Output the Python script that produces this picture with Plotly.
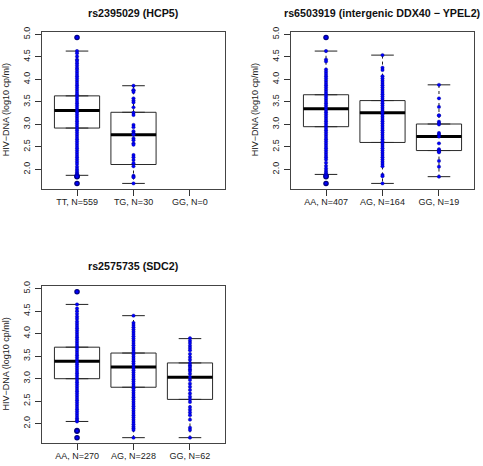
import plotly.graph_objects as go

# ---------------- data ----------------
Y_TICKS = [2.0, 2.5, 3.0, 3.5, 4.0, 4.5, 5.0]
Y_TICK_TEXT = ["2.0", "2.5", "3.0", "3.5", "4.0", "4.5", "5.0"]
Y_LABEL = "HIV\u2212DNA (log10 cp/ml)"

# Panel 1: rs2395029 (HCP5)
p1_title = "rs2395029 (HCP5)"
p1_cats = ["TT, N=559", "TG, N=30", "GG, N=0"]
p1_tt = [4.93, 4.63, 4.58, 4.51, 4.44, 4.41, 4.36, 4.31,
         4.26, 4.22, 4.17, 4.12, 4.07, 4.02, 3.97, 3.92, 3.87, 3.82, 3.77, 3.72,
         3.67, 3.62, 3.57, 3.52, 3.47, 3.42, 3.37, 3.32, 3.27, 3.22, 3.17, 3.12,
         3.07, 3.02, 2.97, 2.92, 2.87, 2.82, 2.77, 2.72, 2.67, 2.62, 2.57, 2.52,
         2.47, 2.42, 2.37, 2.32, 2.27, 2.22, 2.17, 2.12,
         2.06, 2.01, 1.97, 1.93, 1.90, 1.88, 1.86, 1.84, 1.69]
p1_tg = [3.86, 3.76, 3.76, 3.72, 3.58, 3.53, 3.49, 3.38, 3.26, 3.21, 2.99, 2.94,
         2.85, 2.80, 2.80, 2.78, 2.77, 2.69, 2.65, 2.58, 2.55, 2.32, 2.27, 2.21,
         2.14, 2.07, 1.86, 1.83, 1.83, 1.69]
p1_gg = []
p1_lower = [1.87, 1.69, None]
p1_q1 = [2.92, 2.11, None]
p1_med = [3.31, 2.77, None]
p1_q3 = [3.635, 3.27, None]
p1_upper = [4.63, 3.86, None]
p1_out = [[4.93, 1.85, 1.84, 1.69], [], []]

# Panel 2: rs6503919 (intergenic DDX40 - YPEL2)
p2_title = "rs6503919 (intergenic DDX40 \u2212 YPEL2)"
p2_cats = ["AA, N=407", "AG, N=164", "GG, N=19"]
p2_aa = [4.93, 4.63, 4.44, 4.40,
         4.22, 4.17, 4.12, 4.07, 4.02, 3.97, 3.92, 3.87, 3.82, 3.77, 3.72, 3.67,
         3.62, 3.57, 3.52, 3.47, 3.42, 3.37, 3.32, 3.27, 3.22, 3.17, 3.12, 3.07,
         3.02, 2.97, 2.92, 2.87, 2.82, 2.77, 2.72, 2.67, 2.62, 2.57, 2.52, 2.47,
         2.42, 2.37, 2.32, 2.27, 2.22,
         2.15, 2.08, 2.02, 1.97, 1.93, 1.89, 1.86, 1.84, 1.69]
p2_ag = [4.54, 4.26, 4.21,
         4.07, 4.02, 3.97, 3.92, 3.87, 3.82, 3.77, 3.72, 3.67, 3.62, 3.57, 3.52,
         3.47, 3.42, 3.37, 3.32, 3.27, 3.22, 3.17, 3.12, 3.07, 3.02, 2.97, 2.92,
         2.87, 2.82, 2.77, 2.72, 2.67, 2.62, 2.57, 2.52, 2.47, 2.42, 2.37, 2.32,
         2.27, 2.22, 2.17, 2.12, 2.07,
         1.88, 1.85, 1.69]
p2_gg = [3.88, 3.58, 3.39, 3.20, 3.20, 3.06, 3.03, 3.00, 2.81, 2.78, 2.73, 2.58,
         2.45, 2.42, 2.40, 2.38, 2.19, 2.06, 1.84]
p2_lower = [1.89, 1.69, 1.84]
p2_q1 = [2.95, 2.60, 2.42]
p2_med = [3.35, 3.26, 2.73]
p2_q3 = [3.66, 3.53, 3.01]
p2_upper = [4.63, 4.54, 3.88]
p2_out = [[4.93, 1.86, 1.84, 1.69], [], []]

# Panel 3: rs2575735 (SDC2)
p3_title = "rs2575735 (SDC2)"
p3_cats = ["AA, N=270", "AG, N=228", "GG, N=62"]
p3_aa = [4.93, 4.65, 4.56, 4.50, 4.44, 4.38, 4.33,
         4.27, 4.22, 4.17, 4.12, 4.07, 4.02, 3.97, 3.92, 3.87, 3.82, 3.77, 3.72,
         3.67, 3.62, 3.57, 3.52, 3.47, 3.42, 3.37, 3.32, 3.27, 3.22, 3.17, 3.12,
         3.07, 3.02, 2.97, 2.92, 2.87, 2.82, 2.77, 2.72, 2.67, 2.62, 2.57, 2.52,
         2.47, 2.42, 2.37, 2.32, 2.27, 2.22, 2.17, 2.12, 2.08, 2.05, 1.84, 1.69]
p3_ag = [4.40,
         4.24, 4.19, 4.14, 4.09, 4.04, 3.99, 3.94, 3.89, 3.84, 3.79, 3.74, 3.69,
         3.64, 3.59, 3.54, 3.49, 3.44, 3.39, 3.34, 3.29, 3.24, 3.19, 3.14, 3.09,
         3.04, 2.99, 2.94, 2.89, 2.84, 2.79, 2.74, 2.69, 2.64, 2.59, 2.54, 2.49,
         2.44, 2.39, 2.34, 2.29, 2.24, 2.19, 2.14, 2.09, 2.04, 1.99, 1.94, 1.90,
         1.86, 1.69]
p3_gg = [3.90, 3.84, 3.79, 3.73, 3.68, 3.63, 3.55, 3.48, 3.42, 3.35, 3.30, 3.26,
         3.21, 3.17, 3.11, 3.04, 2.97, 2.89, 2.82, 2.75, 2.67, 2.60, 2.54, 2.48,
         2.37, 2.31, 2.25, 2.19, 2.09, 1.91, 1.86, 1.69]
p3_lower = [2.05, 1.69, 1.69]
p3_q1 = [3.00, 2.81, 2.54]
p3_med = [3.39, 3.26, 3.03]
p3_q3 = [3.70, 3.57, 3.35]
p3_upper = [4.65, 4.40, 3.89]
p3_out = [[4.93, 1.85, 1.83, 1.69], [], []]

# ---------------- figure ----------------
W, H = 483, 466
FONT = "Liberation Sans, Arial, Helvetica, sans-serif"
STRIP = "rgb(0,0,255)"
STRIP_EDGE = "rgba(0,0,120,0.7)"
OUT = "#00007a"

panels = [
    dict(title=p1_title, cats=p1_cats, groups=[p1_tt, p1_tg, p1_gg], lower=p1_lower, q1=p1_q1,
         med=p1_med, q3=p1_q3, upper=p1_upper, out=p1_out,
         xd=[42 / W, 225 / W], yd=[280 / H, 439 / H], title_y=458 / H, xa="x", ya="y"),
    dict(title=p2_title, cats=p2_cats, groups=[p2_aa, p2_ag, p2_gg], lower=p2_lower, q1=p2_q1,
         med=p2_med, q3=p2_q3, upper=p2_upper, out=p2_out,
         xd=[291 / W, 474 / W], yd=[280 / H, 439 / H], title_y=458 / H, xa="x2", ya="y2"),
    dict(title=p3_title, cats=p3_cats, groups=[p3_aa, p3_ag, p3_gg], lower=p3_lower, q1=p3_q1,
         med=p3_med, q3=p3_q3, upper=p3_upper, out=p3_out,
         xd=[42 / W, 225 / W], yd=[23 / H, 182 / H], title_y=202 / H, xa="x3", ya="y3"),
]

fig = go.Figure()
annotations = []
layout_axes = {}

for k, p in enumerate(panels):
    xa, ya = p["xa"], p["ya"]
    idx = [i + 1 for i in range(len(p["cats"]))]
    have = [i for i in range(len(idx)) if p["med"][i] is not None]

    # boxes (white fill, whiskers collapsed; whiskers drawn dashed below)
    fig.add_trace(go.Box(
        x=[idx[i] for i in have],
        q1=[p["q1"][i] for i in have],
        median=[p["med"][i] for i in have],
        q3=[p["q3"][i] for i in have],
        lowerfence=[p["q1"][i] for i in have],
        upperfence=[p["q3"][i] for i in have],
        width=0.8, boxpoints=False, fillcolor="white",
        line=dict(color="#2a2a2a", width=1),
        xaxis=xa, yaxis=ya, showlegend=False, hoverinfo="skip"))

    # whiskers (dashed) and caps
    wx, wy, cx, cy = [], [], [], []
    for i in have:
        c = idx[i]
        wx += [c, c, None, c, c, None]
        wy += [p["q3"][i], p["upper"][i], None, p["q1"][i], p["lower"][i], None]
        cx += [c - 0.2, c + 0.2, None, c - 0.2, c + 0.2, None]
        cy += [p["upper"][i], p["upper"][i], None, p["lower"][i], p["lower"][i], None]
    fig.add_trace(go.Scatter(x=wx, y=wy, mode="lines", line=dict(color="#222", width=1, dash="3px,3px"),
                             xaxis=xa, yaxis=ya, showlegend=False, hoverinfo="skip"))
    fig.add_trace(go.Scatter(x=cx, y=cy, mode="lines", line=dict(color="#222", width=1),
                             xaxis=xa, yaxis=ya, showlegend=False, hoverinfo="skip"))

    # outliers
    ox, oy = [], []
    for i in range(len(idx)):
        ox += [idx[i]] * len(p["out"][i])
        oy += p["out"][i]
    fig.add_trace(go.Scatter(x=ox, y=oy, mode="markers", marker=dict(color=OUT, size=5.5),
                             xaxis=xa, yaxis=ya, showlegend=False, hoverinfo="skip"))

    # medians (thick)
    mx, my = [], []
    for i in have:
        mx += [idx[i] - 0.4, idx[i] + 0.4, None]
        my += [p["med"][i], p["med"][i], None]
    fig.add_trace(go.Scatter(x=mx, y=my, mode="lines", line=dict(color="black", width=3),
                             xaxis=xa, yaxis=ya, showlegend=False, hoverinfo="skip"))

    # strip points
    sx, sy = [], []
    for i, g in enumerate(p["groups"]):
        sx += [idx[i]] * len(g)
        sy += g
    fig.add_trace(go.Scatter(x=sx, y=sy, mode="markers",
                             marker=dict(color=STRIP, size=3.4, line=dict(color=STRIP_EDGE, width=0.5)),
                             xaxis=xa, yaxis=ya, showlegend=False, hoverinfo="skip"))

    xname = "xaxis" + ("" if k == 0 else str(k + 1))
    yname = "yaxis" + ("" if k == 0 else str(k + 1))
    layout_axes[xname] = dict(domain=p["xd"], anchor=ya, range=[0.38, 3.62],
                              tickmode="array", tickvals=idx, ticktext=p["cats"],
                              ticks="outside", ticklen=6, tickcolor="#333", showgrid=False, zeroline=False,
                              showline=True, mirror=True, linecolor="#444", linewidth=1,
                              tickfont=dict(family=FONT, size=9, color="#222"), ticklabelstandoff=-2)
    layout_axes[yname] = dict(domain=p["yd"], anchor=xa, range=[1.566, 5.06],
                              tickmode="array", tickvals=Y_TICKS, ticktext=Y_TICK_TEXT, tickangle=-90,
                              ticks="outside", ticklen=6, tickcolor="#333", showgrid=False, zeroline=False,
                              showline=True, mirror=True, linecolor="#444", linewidth=1,
                              tickfont=dict(family=FONT, size=9, color="#222"), ticklabelstandoff=1)

    annotations.append(dict(text="<b>" + p["title"] + "</b>", xref="paper", yref="paper",
                            x=(p["xd"][0] + p["xd"][1]) / 2, y=p["title_y"], xanchor="center",
                            yanchor="middle", showarrow=False,
                            font=dict(family=FONT, size=10.7, color="#111")))
    annotations.append(dict(text=Y_LABEL, xref="paper", yref="paper", textangle=-90,
                            x=p["xd"][0] - 36 / W, y=(p["yd"][0] + p["yd"][1]) / 2,
                            xanchor="center", yanchor="middle", showarrow=False,
                            font=dict(family=FONT, size=9, color="#222")))

fig.update_layout(width=W, height=H, margin=dict(l=0, r=0, t=0, b=0),
                  paper_bgcolor="white", plot_bgcolor="white",
                  annotations=annotations, boxgap=0, **layout_axes)

fig.write_html("out.html", config={"displayModeBar": False},
               post_script="document.body.style.margin='0px';document.body.style.overflow='hidden';")
